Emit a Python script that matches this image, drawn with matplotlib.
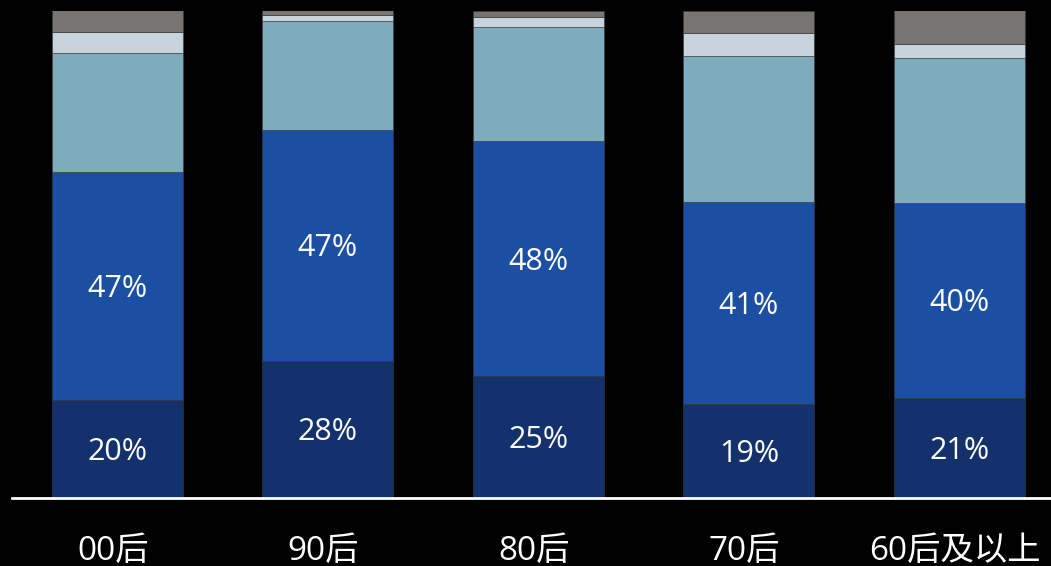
import numpy as np
import matplotlib.pyplot as plt

plt.rcParams['font.family'] = ['Open Sans', 'Noto Sans CJK SC', 'DejaVu Sans']

categories = ["00后", "90后", "80后", "70后", "60后及以上"]
navy = [20.1, 28.1, 25.0, 19.3, 20.6]
blue = [46.8, 47.4, 48.2, 41.4, 40.0]
steel = [24.4, 22.4, 23.4, 29.9, 29.6]
light = [4.3, 1.2, 2.1, 4.7, 2.9]
gray = [4.4, 0.9, 1.3, 4.7, 6.9]

series = [navy, blue, steel, light, gray]
colors = ["#13326D", "#1A4FA3", "#7FABBE", "#C8D4DD", "#787472"]
labeled = [True, True, False, False, False]


def main():
    fig = plt.figure(figsize=(10.51, 5.66), dpi=100, facecolor="black")
    ax = fig.add_axes([12 / 1051, 68 / 566, 1 - 12 / 1051, 487.5 / 566])
    ax.set_facecolor("black")

    x = np.arange(len(categories))
    bottom = np.zeros(len(categories))
    for vals, c, lab in zip(series, colors, labeled):
        vals = np.array(vals)
        ax.bar(x, vals, bottom=bottom, width=0.622, color=c,
               edgecolor="#3a3a3a", linewidth=0.4)
        if lab:
            for xi, b, v in zip(x, bottom, vals):
                ax.text(xi, b + v / 2 - 0.6, f"{v:.0f}%", ha="center",
                        va="center", color="white", fontsize=22)
        bottom += vals

    ax.set_xlim(-0.5, 4.435)
    ax.set_ylim(0, 100)
    for s in ["top", "right", "left"]:
        ax.spines[s].set_visible(False)
    ax.spines["bottom"].set_color("white")
    ax.spines["bottom"].set_linewidth(2)
    ax.set_yticks([])
    ax.set_xticks([])

    # category labels below the baseline (cut at the bottom, as in the source)
    for xi, cat in zip(x, categories):
        ax.text(xi - 0.02, -10.9, cat, ha="center", va="center", color="white",
                fontsize=24, clip_on=False)

    fig.savefig("out.png", dpi=100, facecolor="black")


if __name__ == "__main__":
    main()
